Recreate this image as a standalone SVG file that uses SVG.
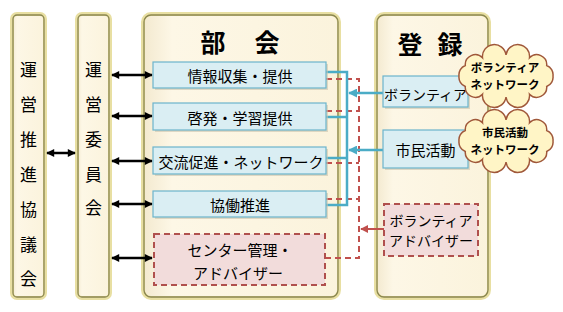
<svg xmlns="http://www.w3.org/2000/svg" width="563" height="312" viewBox="0 0 563 312">
<defs>
<linearGradient id="cream" x1="0" y1="0" x2="1" y2="0">
<stop offset="0" stop-color="#f3e9cf"/>
<stop offset="0.15" stop-color="#fdf7e6"/>
<stop offset="1" stop-color="#fbf3dc"/>
</linearGradient>
<marker id="ah" viewBox="0 0 10 10" refX="9" refY="5" markerWidth="9" markerHeight="8" orient="auto-start-reverse" markerUnits="userSpaceOnUse">
<path d="M0,0 L10,5 L0,10 z" fill="#000"/>
</marker>
<marker id="ahb" viewBox="0 0 10 10" refX="9" refY="5" markerWidth="9" markerHeight="9" orient="auto" markerUnits="userSpaceOnUse">
<path d="M0,0 L10,5 L0,10 z" fill="#4bacc6"/>
</marker>
<marker id="ahr" viewBox="0 0 10 10" refX="9" refY="5" markerWidth="8" markerHeight="8" orient="auto" markerUnits="userSpaceOnUse">
<path d="M0,0 L10,5 L0,10 z" fill="#c0504d"/>
</marker>
<path id="cloud" d="M553,76 A10,10 0 0 1 546.7,86.5 A10,10 0 0 1 529.5,94.2 A10,10 0 0 1 506,97 A10,10 0 0 1 482.5,94.2 A10,10 0 0 1 465.3,86.5 A10,10 0 0 1 459,76 A10,10 0 0 1 465.3,65.5 A10,10 0 0 1 482.5,57.8 A10,10 0 0 1 506,55 A10,10 0 0 1 529.5,57.8 A10,10 0 0 1 546.7,65.5 A10,10 0 0 1 553,76 Z"/>
</defs>
<style>
text{font-family:"Noto Sans CJK JP","Noto Sans CJK SC",sans-serif;fill:#000;}
.glow{fill:url(#cream);stroke:#e8dfa2;stroke-width:4;}
.edge{fill:none;stroke:#8a8650;stroke-width:1.3;}
.blue{fill:#daeef3;stroke:#6cb4cc;stroke-width:1.2;}
.shadow{fill:#c9c3ad;opacity:0.6;}
.pink{fill:#f2dcdb;stroke:#b0504d;stroke-width:2;stroke-dasharray:6 4;}
.col{font-size:17px;text-anchor:middle;dominant-baseline:central;}
.lbl{font-size:15px;text-anchor:middle;dominant-baseline:central;}
.title{font-size:25px;font-weight:bold;text-anchor:middle;dominant-baseline:central;}
.blk{stroke:#000;stroke-width:2.5;fill:none;marker-start:url(#ah);marker-end:url(#ah);}
.bl{stroke:#4bacc6;stroke-width:2.5;fill:none;}
.rd{stroke:#c0504d;stroke-width:2;fill:none;stroke-dasharray:6 4;}
.cl{fill:#fff5c6;stroke:#a0583a;stroke-width:1.5;}
.ct{font-size:11.5px;font-weight:bold;text-anchor:middle;dominant-baseline:central;}
</style>

<g id="council">
<rect class="glow" x="12" y="14" width="33" height="284" rx="5"/>
<rect class="edge" x="13" y="15" width="31" height="282" rx="4"/>
<text class="col" x="28.5" y="68">運</text>
<text class="col" x="28.5" y="103">営</text>
<text class="col" x="28.5" y="138">推</text>
<text class="col" x="28.5" y="173">進</text>
<text class="col" x="28.5" y="208">協</text>
<text class="col" x="28.5" y="243">議</text>
<text class="col" x="28.5" y="277">会</text>
</g>

<g id="committee">
<rect class="glow" x="77" y="14" width="33" height="284" rx="5"/>
<rect class="edge" x="78" y="15" width="31" height="282" rx="4"/>
<text class="col" x="93.5" y="68">運</text>
<text class="col" x="93.5" y="103">営</text>
<text class="col" x="93.5" y="138">委</text>
<text class="col" x="93.5" y="173">員</text>
<text class="col" x="93.5" y="206">会</text>
</g>

<g id="bukai">
<rect class="glow" x="143" y="14" width="196" height="284" rx="8"/>
<rect class="edge" x="144" y="15" width="194" height="282" rx="7"/>
<text class="title" x="213" y="41">部</text>
<text class="title" x="267" y="41">会</text>
</g>

<g id="touroku">
<rect class="glow" x="376" y="14" width="113" height="284" rx="8"/>
<rect class="edge" x="377" y="15" width="111" height="282" rx="7"/>
<text class="title" x="410" y="43">登</text>
<text class="title" x="450" y="43">録</text>
</g>

<g id="connectors">
<line class="blk" x1="47" y1="153" x2="75" y2="153"/>
<line class="blk" x1="112" y1="75" x2="152" y2="75"/>
<line class="blk" x1="112" y1="116" x2="152" y2="116"/>
<line class="blk" x1="112" y1="161" x2="152" y2="161"/>
<line class="blk" x1="112" y1="204" x2="152" y2="204"/>
<line class="blk" x1="112" y1="258" x2="152" y2="258"/>
<path class="rd" d="M326,79 H359 V258 H326"/>
<path class="rd" d="M326,111 H359"/>
<path class="rd" d="M326,163 H359"/>
<path class="rd" d="M326,199 H359"/>
<path class="bl" d="M326,72 H347 V205 H326"/>
<path class="bl" d="M326,117 H347"/>
<path class="bl" d="M326,158 H347"/>
<line class="bl" x1="383" y1="93" x2="349" y2="93" marker-end="url(#ahb)"/>
<line class="bl" x1="383" y1="150" x2="349" y2="150" marker-end="url(#ahb)"/>
<line stroke="#c0504d" stroke-width="2" x1="384" y1="229" x2="361" y2="229" marker-end="url(#ahr)"/>
</g>

<g id="n-info">
<rect class="shadow" x="155" y="64" width="173" height="26"/>
<rect class="blue" x="153" y="62" width="173" height="26"/>
<text class="lbl" x="240" y="75">情報収集・提供</text>
</g>
<g id="n-keihatsu">
<rect class="shadow" x="155" y="105" width="173" height="27"/>
<rect class="blue" x="153" y="103" width="173" height="27"/>
<text class="lbl" x="240" y="117">啓発・学習提供</text>
</g>
<g id="n-kouryu">
<rect class="shadow" x="155" y="149" width="173" height="27"/>
<rect class="blue" x="153" y="147" width="173" height="27"/>
<text class="lbl" x="241" y="161">交流促進・ネットワーク</text>
</g>
<g id="n-kyodo">
<rect class="shadow" x="155" y="193" width="173" height="26"/>
<rect class="blue" x="153" y="191" width="173" height="26"/>
<text class="lbl" x="240" y="204">協働推進</text>
</g>
<g id="n-center">
<rect class="pink" x="154" y="234" width="171" height="51"/>
<text class="lbl" x="240" y="249">センター管理・</text>
<text class="lbl" x="238" y="272">アドバイザー</text>
</g>

<g id="n-volunteer">
<rect class="shadow" x="385" y="78" width="85" height="31"/>
<rect class="blue" x="383" y="76" width="85" height="31"/>
<text class="lbl" x="425.5" y="94" style="font-size:14px">ボランティア</text>
</g>
<g id="n-shimin">
<rect class="shadow" x="385" y="132" width="85" height="38"/>
<rect class="blue" x="383" y="130" width="85" height="38"/>
<text class="lbl" x="425.5" y="149">市民活動</text>
</g>
<g id="n-advisor">
<rect class="pink" x="384" y="204" width="94" height="52"/>
<text class="lbl" x="431" y="220" style="font-size:14px">ボランティア</text>
<text class="lbl" x="431" y="240" style="font-size:14px">アドバイザー</text>
</g>

<g id="cloud-volunteer">
<use href="#cloud" class="cl"/>
<text class="ct" x="505" y="67">ボランティア</text>
<text class="ct" x="505" y="84">ネットワーク</text>
</g>
<g id="cloud-shimin">
<use href="#cloud" class="cl" transform="translate(0,65)"/>
<text class="ct" x="505" y="132">市民活動</text>
<text class="ct" x="505" y="149">ネットワーク</text>
</g>
</svg>
